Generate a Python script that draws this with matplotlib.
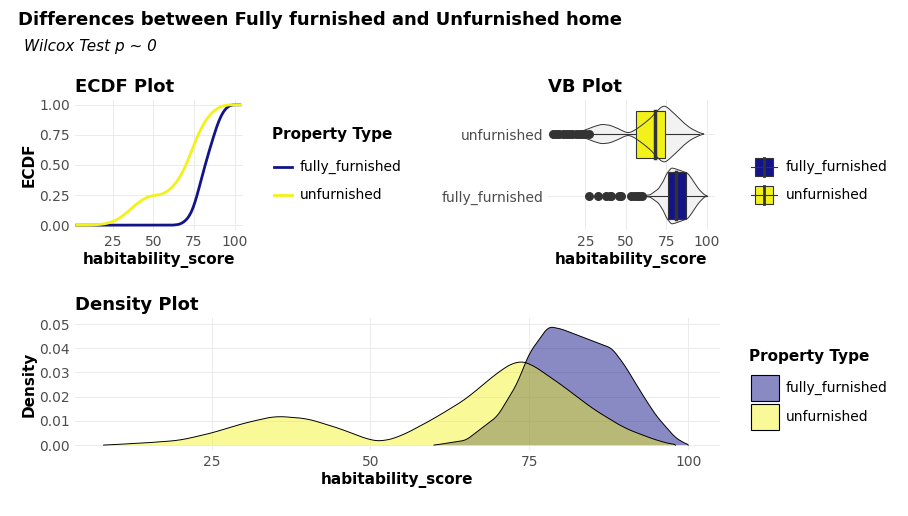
import numpy as np
import matplotlib.pyplot as plt

# density curves
ff_x = [60, 65, 70, 73, 75, 78, 80, 83, 85, 88, 90, 93, 95, 98, 100]
ff_d = [0.0, 0.002, 0.012, 0.025, 0.038, 0.049, 0.048, 0.045, 0.043, 0.040, 0.033, 0.02, 0.012, 0.003, 0.0]
uf_x = [8, 15, 20, 25, 30, 35, 40, 45, 50, 52, 55, 60, 65, 70, 73, 75, 80, 85, 90, 95, 98]
uf_d = [0.0, 0.001, 0.002, 0.005, 0.009, 0.012, 0.011, 0.007, 0.002, 0.0015, 0.004, 0.011, 0.019, 0.030, 0.035, 0.034, 0.025, 0.015, 0.007, 0.002, 0.0]

# box stats: q1, median, q3, whisker low, whisker high
ff_box = [76, 81, 87, 62, 100]
uf_box = [56, 68, 74, 28, 95]
ff_out = [27, 33, 38, 40, 41, 46, 47, 53, 55, 57, 58, 60]
uf_out = [5, 7, 9, 11, 13, 15, 17, 19, 21, 23, 25, 27]

names = ['fully_furnished', 'unfurnished']
navy = '#14148a'
yel = '#f2f21a'
grid_c = '#ebebeb'

fig = plt.figure(figsize=(9.08, 5.16), dpi=100)
W, H = 908, 516
def ax_at(l, t, r, b):
    return fig.add_axes([l / W, 1 - b / H, (r - l) / W, (b - t) / H])

def style(ax):
    for s in ax.spines.values():
        s.set_visible(False)
    ax.grid(True, color=grid_c, lw=0.7)
    ax.set_axisbelow(True)
    ax.tick_params(length=0, labelsize=10, colors='#4d4d4d')

fig.text(18 / W, 1 - 20 / H, 'Differences between Fully furnished and Unfurnished home',
         fontsize=13, fontweight='bold', va='center')
fig.text(24 / W, 1 - 46 / H, 'Wilcox Test p ~ 0', fontsize=11, style='italic', va='center')

def grid_interp(x, d):
    g = np.linspace(min(x), max(x), 400)
    v = np.interp(g, x, d)
    k = np.ones(15) / 15
    vs = np.convolve(np.pad(v, 7, mode='edge'), k, mode='valid')
    vs[0] = v[0]; vs[-1] = v[-1]
    return g, np.clip(vs, 0, None)

# ECDF
ax1 = ax_at(75, 100, 243, 230)
style(ax1)
for (x, d), c in zip([(ff_x, ff_d), (uf_x, uf_d)], [navy, yel]):
    g, v = grid_interp(x, d)
    cdf = np.cumsum(v)
    cdf /= cdf[-1]
    g = np.concatenate([[3], g, [103]])
    cdf = np.concatenate([[0], cdf, [1]])
    ax1.plot(g, cdf, color=c, lw=2)
ax1.set_xlim(2, 105)
ax1.set_ylim(-0.04, 1.04)
ax1.set_xticks([25, 50, 75, 100])
ax1.set_yticks([0, 0.25, 0.5, 0.75, 1.0])
ax1.set_yticklabels(['0.00', '0.25', '0.50', '0.75', '1.00'])
ax1.set_xlabel('habitability_score', fontsize=11, fontweight='bold', labelpad=2)
ax1.set_ylabel('ECDF', fontsize=11, fontweight='bold', labelpad=2)
ax1.set_title('ECDF Plot', fontsize=13, fontweight='bold', loc='left', x=0.0, pad=6)
fig.text(272 / W, 1 - 135 / H, 'Property Type', fontsize=11, fontweight='bold', va='center')
for i, (n, c) in enumerate(zip(names, [navy, yel])):
    y = 1 - (167 + 28 * i) / H
    fig.add_artist(plt.Line2D([274 / W, 292 / W], [y, y], color=c, lw=2))
    fig.text(300 / W, y, n, fontsize=10, va='center')

# VB plot
ax2 = ax_at(548, 100, 715, 230)
style(ax2)
for pos, (x, d), bx, out, c in [(1, (ff_x, ff_d), ff_box, ff_out, navy),
                                 (2, (uf_x, uf_d), uf_box, uf_out, yel)]:
    g, v = grid_interp(x, d)
    v = v / v.max() * 0.45
    ax2.fill_between(g, pos - v, pos + v, facecolor='#f2f2f2', edgecolor='none', zorder=1)
    ax2.plot([bx[3], bx[4]], [pos, pos], color='#333333', lw=0.8, zorder=2)
    ax2.add_patch(plt.Rectangle((bx[0], pos - 0.38), bx[2] - bx[0], 0.76,
                                facecolor=c, edgecolor='#333333', lw=0.8, zorder=3))
    ax2.plot([bx[1], bx[1]], [pos - 0.38, pos + 0.38], color='#333333', lw=2.5, zorder=4)
    ax2.plot(g, pos + v, color='#333333', lw=0.7, zorder=5)
    ax2.plot(g, pos - v, color='#333333', lw=0.7, zorder=5)
    ax2.scatter(out, [pos] * len(out), s=30, color='#333333', zorder=6)
ax2.set_xlim(2, 105)
ax2.set_ylim(0.45, 2.55)
ax2.set_xticks([25, 50, 75, 100])
ax2.set_yticks([1, 2])
ax2.set_yticklabels(names, fontsize=10)
ax2.set_xlabel('habitability_score', fontsize=11, fontweight='bold', labelpad=2)
ax2.set_title('VB Plot', fontsize=13, fontweight='bold', loc='left', x=0.0, pad=6)
for i, (n, c) in enumerate(zip(names, [navy, yel])):
    y = (167 + 28 * i)
    fig.add_artist(plt.Line2D([751 / W, 777 / W], [1 - y / H] * 2, color='#333333', lw=0.8))
    fig.add_artist(plt.Rectangle((755 / W, 1 - (y + 9) / H), 18 / W, 18 / H,
                                 facecolor=c, edgecolor='#333333', lw=0.8))
    fig.add_artist(plt.Line2D([764 / W, 764 / W], [1 - (y + 9) / H, 1 - (y - 9) / H], color='#333333', lw=2))
    fig.text(786 / W, 1 - y / H, n, fontsize=10, va='center')

# Density
ax3 = ax_at(75, 318, 720, 450)
style(ax3)
for (x, d), c, a in [((ff_x, ff_d), navy, 0.5), ((uf_x, uf_d), yel, 0.45)]:
    g, v = grid_interp(x, d)
    ax3.fill_between(g, 0, v, facecolor=c, alpha=a, edgecolor='none')
    ax3.plot(g, v, color='black', lw=0.7)
ax3.set_xlim(3.5, 105)
ax3.set_ylim(-0.002, 0.0525)
ax3.set_xticks([25, 50, 75, 100])
ax3.set_yticks([0, 0.01, 0.02, 0.03, 0.04, 0.05])
ax3.set_yticklabels(['0.00', '0.01', '0.02', '0.03', '0.04', '0.05'])
ax3.set_xlabel('habitability_score', fontsize=11, fontweight='bold', labelpad=2)
ax3.set_ylabel('Density', fontsize=11, fontweight='bold', labelpad=2)
ax3.set_title('Density Plot', fontsize=13, fontweight='bold', loc='left', x=0.0, pad=6)
fig.text(749 / W, 1 - 356 / H, 'Property Type', fontsize=11, fontweight='bold', va='center')
for i, (n, c, a) in enumerate(zip(names, [navy, yel], [0.5, 0.45])):
    y = 388 + 29 * i
    fig.add_artist(plt.Rectangle((751 / W, 1 - (y + 13) / H), 28 / W, 26 / H,
                                 facecolor=c, alpha=a, edgecolor='none'))
    fig.add_artist(plt.Rectangle((751 / W, 1 - (y + 13) / H), 28 / W, 26 / H,
                                 facecolor='none', edgecolor='black', lw=0.8))
    fig.text(786 / W, 1 - y / H, n, fontsize=10, va='center')

fig.savefig('out.png', dpi=100)
